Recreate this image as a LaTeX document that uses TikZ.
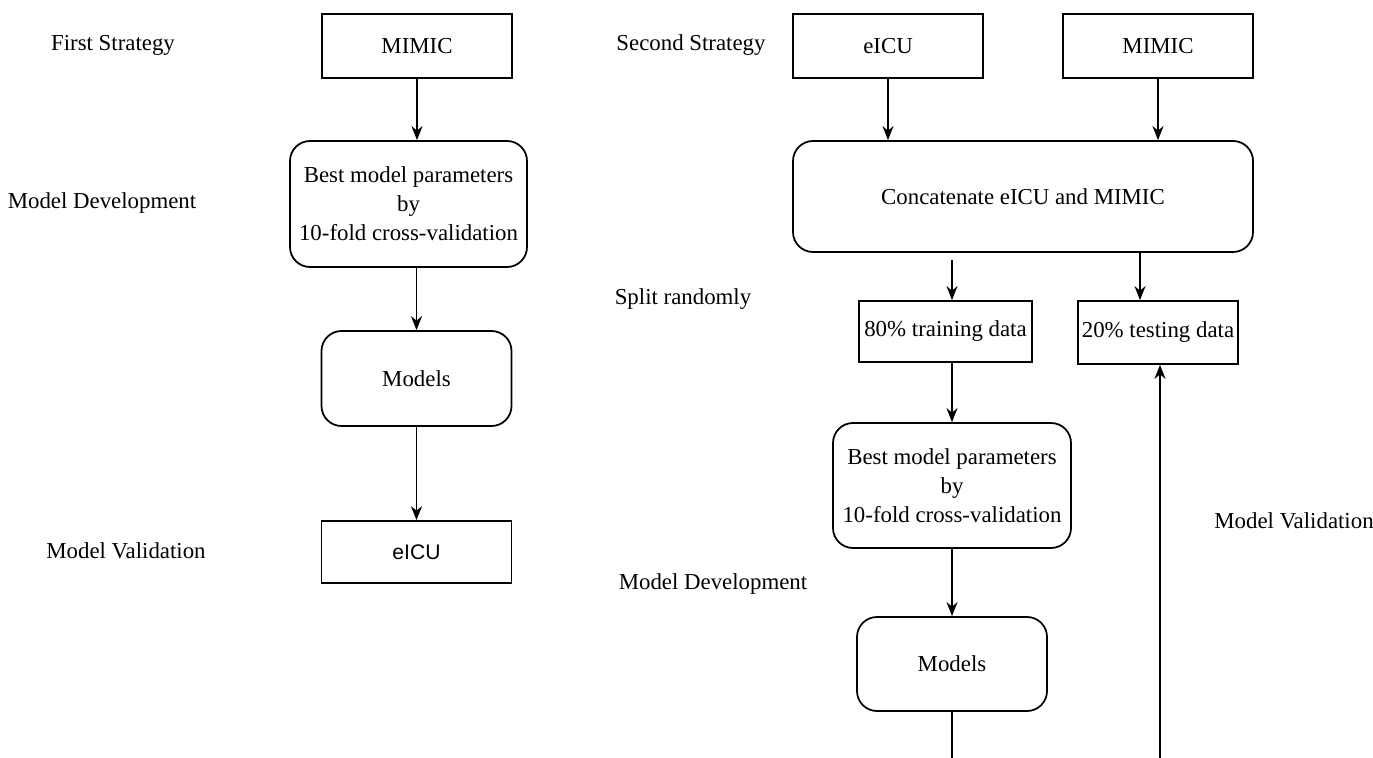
\documentclass[tikz,border=0pt]{standalone}
\usepackage{fontspec}
\setmainfont{Liberation Serif}
\newfontfamily\arialfont{Liberation Sans}
\usetikzlibrary{arrows.meta}

\begin{document}
\begin{tikzpicture}[
		font=\fontsize{13}{16.5}\selectfont,
		>={Stealth[length=2.8mm,width=2.2mm,inset=0.9mm]},
		line width=1pt,
		sqbox/.style={draw, rectangle, inner xsep=2pt, minimum width=3.8cm, minimum height=1.28cm, align=center},
		rndbox/.style={draw, rectangle, rounded corners=0.4cm, minimum width=3.8cm, minimum height=1.9cm, align=center},
		steplabel/.style={align=center}
	]
		\useasboundingbox (0,0) rectangle (27.46,-15.16);

		% first strategy
		\node [steplabel] (lblfirst) at (2.26,-0.90) {First Strategy};
		\node [steplabel] (lbldevA) at (2.04,-4.06) {Model Development};
		\node [steplabel] (lblvalA) at (2.52,-11.02) {Model Validation};

		\node [sqbox] (mimicA) at (8.34,-0.92) {MIMIC};
		\node [rndbox, minimum width=4.74cm, minimum height=2.52cm] (bestA) at (8.17,-4.08) {Best model parameters\\by\\10-fold cross-validation};
		\node [rndbox] (modelsA) at (8.33,-7.57) {Models};
		\node [sqbox, minimum height=1.24cm, font=\arialfont\fontsize{12}{14}\selectfont] (eicuA) at (8.33,-11.04) {eICU};

		\draw [->] (mimicA.south) -- (mimicA.south |- bestA.north);
		\draw [->] (modelsA.north |- bestA.south) -- (modelsA.north);
		\draw [->] (modelsA.south) -- (eicuA.north);

		% second strategy
		\node [steplabel] (lblsecond) at (13.82,-0.90) {Second Strategy};
		\node [steplabel] (lblsplit) at (13.66,-5.98) {Split randomly};
		\node [steplabel] (lblvalB) at (25.88,-10.42) {Model Validation};
		\node [steplabel] (lbldevB) at (14.26,-11.68) {Model Development};

		\node [sqbox] (eicuB) at (17.76,-0.92) {eICU};
		\node [sqbox] (mimicB) at (23.16,-0.92) {MIMIC};
		\node [rndbox, minimum width=9.2cm, minimum height=2.22cm] (concat) at (20.46,-3.93) {Concatenate eICU and MIMIC};
		\node [sqbox, minimum width=3.46cm, minimum height=1.22cm] (trainB) at (18.91,-6.63) {80\% training data};
		\node [sqbox, minimum width=3.16cm, minimum height=1.26cm] (testB) at (23.16,-6.65) {20\% testing data};
		\node [rndbox, minimum width=4.76cm, minimum height=2.5cm] (bestB) at (19.04,-9.71) {Best model parameters\\by\\10-fold cross-validation};
		\node [rndbox, minimum height=1.88cm] (modelsB) at (19.04,-13.28) {Models};

		\coordinate (splitA) at (19.04,-5.20);
		\coordinate (splitB) at (22.80,-5.04);
		\coordinate (endA) at (19.04,-15.16);
		\coordinate (endB) at (23.20,-15.16);

		\draw [->] (eicuB.south) -- (eicuB.south |- concat.north);
		\draw [->] (mimicB.south) -- (mimicB.south |- concat.north);
		\draw [->] (splitA) -- (splitA |- trainB.north);
		\draw [->] (splitB) -- (splitB |- testB.north);
		\draw [->] (bestB.north |- trainB.south) -- (bestB.north);
		\draw [->] (bestB.south) -- (modelsB.north);
		\draw (modelsB.south) -- (endA);
		\draw [->] (endB) -- (endB |- testB.south);
	\end{tikzpicture}
\end{document}
